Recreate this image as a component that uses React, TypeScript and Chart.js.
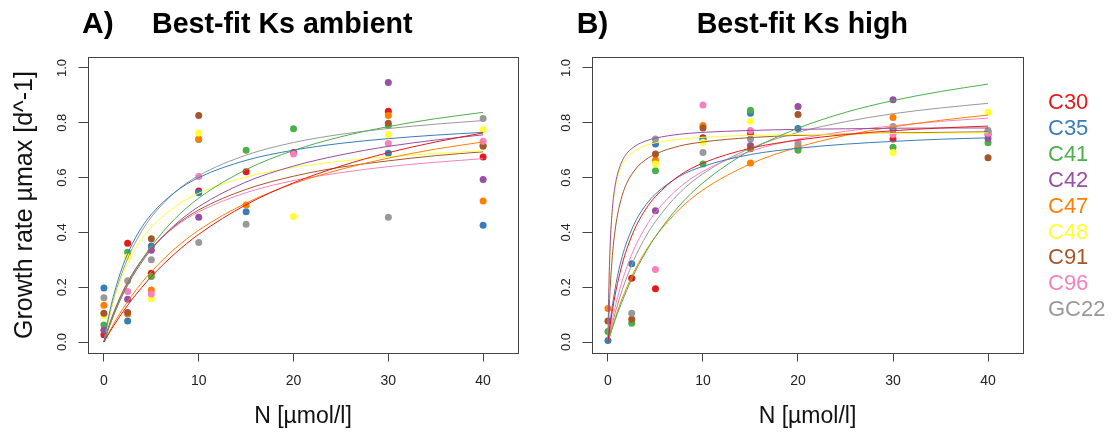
import React, { useEffect, useRef } from "react";
import { Chart, registerables } from "chart.js";

Chart.register(...registerables);

// ---- categories / labels ----
const strains = ["C30", "C35", "C41", "C42", "C47", "C48", "C91", "C96", "GC22"];
const strainColors = ["#E41A1C", "#377EB8", "#4DAF4A", "#984EA3", "#FF7F00", "#FFFF33", "#A65628", "#F781BF", "#999999"];
const nLevels = [0, 2.5, 5, 10, 15, 20, 30, 40];
const xTickValues = [0, 10, 20, 30, 40];
const yTickValues = [0, 0.2, 0.4, 0.6, 0.8, 1.0];
const yTickLabels = ["0.0", "0.2", "0.4", "0.6", "0.8", "1.0"];

// ---- measured growth rates, ambient (values at nLevels; null = not visible) ----
const ambC30 = [0.027, 0.36, 0.251, 0.551, 0.621, 0.692, 0.842, 0.675];
const ambC35 = [0.197, 0.077, 0.35, 0.545, 0.475, null, 0.689, 0.426];
const ambC41 = [0.062, 0.328, 0.239, 0.739, 0.70, 0.778, 0.79, 0.719];
const ambC42 = [0.043, 0.156, 0.335, 0.455, null, null, 0.947, 0.593];
const ambC47 = [0.134, 0.102, 0.19, 0.741, 0.50, null, 0.827, 0.515];
const ambC48 = [0.097, 0.31, 0.158, 0.763, null, 0.458, 0.757, 0.775];
const ambC91 = [0.105, 0.108, 0.377, 0.827, null, null, 0.798, 0.714];
const ambC96 = [null, 0.184, 0.175, 0.604, null, 0.686, 0.724, 0.733];
const ambGC22 = [0.162, 0.224, 0.30, 0.363, 0.43, null, 0.455, 0.816];

// ---- measured growth rates, high ----
const highC30 = [null, 0.233, 0.194, 0.745, 0.763, 0.708, 0.741, 0.757];
const highC35 = [0.006, 0.286, 0.723, 0.74, 0.835, 0.779, 0.776, 0.767];
const highC41 = [0.038, 0.069, 0.625, 0.650, 0.846, 0.70, 0.711, 0.727];
const highC42 = [null, null, 0.479, null, 0.717, 0.859, 0.884, 0.743];
const highC47 = [0.122, null, 0.664, 0.790, 0.653, null, 0.819, null];
const highC48 = [null, null, 0.650, 0.729, 0.806, null, 0.692, 0.838];
const highC91 = [0.077, 0.083, 0.686, 0.781, 0.705, 0.830, null, 0.672];
const highC96 = [null, null, 0.265, 0.865, 0.772, 0.729, 0.757, 0.762];
const highGC22 = [null, 0.105, 0.741, 0.692, 0.741, 0.72, 0.786, 0.772];

// ---- best-fit curves ----
const ambientGrid = [0, 0.5, 1, 2, 3, 4, 5, 7.5, 10, 15, 20, 25, 30, 35, 40];
const fitAmbC30 = [0, 0.030, 0.058, 0.110, 0.157, 0.199, 0.239, 0.323, 0.393, 0.501, 0.581, 0.642, 0.691, 0.730, 0.763];
const fitAmbC35 = [0, 0.093, 0.167, 0.279, 0.359, 0.419, 0.466, 0.547, 0.600, 0.663, 0.700, 0.725, 0.742, 0.755, 0.765];
const fitAmbC41 = [0, 0.050, 0.096, 0.175, 0.243, 0.300, 0.350, 0.450, 0.525, 0.629, 0.699, 0.749, 0.786, 0.815, 0.838];
const fitAmbC42 = [0, 0.051, 0.096, 0.174, 0.238, 0.292, 0.338, 0.428, 0.494, 0.584, 0.642, 0.683, 0.714, 0.737, 0.756];
const fitAmbC47 = [0, 0.033, 0.065, 0.122, 0.172, 0.217, 0.257, 0.341, 0.408, 0.507, 0.578, 0.630, 0.671, 0.704, 0.730];
const fitAmbC48 = [0, 0.082, 0.148, 0.249, 0.321, 0.376, 0.419, 0.494, 0.543, 0.602, 0.637, 0.660, 0.676, 0.688, 0.698];
const fitAmbC91 = [0, 0.055, 0.103, 0.183, 0.247, 0.299, 0.342, 0.424, 0.482, 0.557, 0.605, 0.638, 0.661, 0.680, 0.694];
const fitAmbC96 = [0, 0.057, 0.106, 0.187, 0.250, 0.301, 0.342, 0.421, 0.475, 0.545, 0.589, 0.618, 0.640, 0.656, 0.669];
const fitAmbGC22 = [0, 0.083, 0.152, 0.261, 0.342, 0.405, 0.456, 0.547, 0.607, 0.682, 0.728, 0.758, 0.779, 0.795, 0.808];

const highGrid = [0, 0.1, 0.25, 0.5, 0.75, 1, 1.5, 2, 3, 4, 5, 7.5, 10, 15, 20, 25, 30, 35, 40];
const fitHighC30 = [0, 0.028, 0.066, 0.122, 0.171, 0.213, 0.284, 0.341, 0.426, 0.486, 0.531, 0.607, 0.653, 0.707, 0.737, 0.757, 0.771, 0.781, 0.788];
const fitHighC35 = [0, 0.033, 0.078, 0.141, 0.194, 0.240, 0.312, 0.367, 0.447, 0.501, 0.540, 0.604, 0.641, 0.684, 0.707, 0.722, 0.732, 0.740, 0.745];
const fitHighC41 = [0, 0.011, 0.028, 0.054, 0.080, 0.104, 0.149, 0.191, 0.266, 0.329, 0.385, 0.497, 0.581, 0.700, 0.780, 0.838, 0.881, 0.914, 0.941];
const fitHighC42 = [0, 0.204, 0.367, 0.501, 0.570, 0.612, 0.661, 0.689, 0.718, 0.734, 0.744, 0.758, 0.765, 0.772, 0.776, 0.778, 0.780, 0.781, 0.781];
const fitHighC47 = [0, 0.012, 0.031, 0.059, 0.086, 0.112, 0.159, 0.201, 0.274, 0.334, 0.385, 0.484, 0.555, 0.650, 0.711, 0.754, 0.785, 0.809, 0.828];
const fitHighC48 = [0, 0.202, 0.362, 0.492, 0.559, 0.600, 0.647, 0.674, 0.702, 0.718, 0.727, 0.740, 0.747, 0.754, 0.757, 0.759, 0.761, 0.762, 0.763];
const fitHighC91 = [0, 0.099, 0.208, 0.329, 0.407, 0.463, 0.535, 0.581, 0.635, 0.666, 0.686, 0.715, 0.730, 0.746, 0.754, 0.759, 0.763, 0.765, 0.767];
const fitHighC96 = [0, 0.019, 0.047, 0.089, 0.127, 0.162, 0.223, 0.275, 0.358, 0.422, 0.473, 0.563, 0.623, 0.696, 0.740, 0.769, 0.789, 0.805, 0.817];
const fitHighGC22 = [0, 0.015, 0.038, 0.072, 0.105, 0.135, 0.190, 0.238, 0.320, 0.386, 0.440, 0.543, 0.614, 0.707, 0.765, 0.804, 0.833, 0.854, 0.871];

const ambientPoints = [ambC30, ambC35, ambC41, ambC42, ambC47, ambC48, ambC91, ambC96, ambGC22];
const highPoints = [highC30, highC35, highC41, highC42, highC47, highC48, highC91, highC96, highGC22];
const ambientFits = [fitAmbC30, fitAmbC35, fitAmbC41, fitAmbC42, fitAmbC47, fitAmbC48, fitAmbC91, fitAmbC96, fitAmbGC22];
const highFits = [fitHighC30, fitHighC35, fitHighC41, fitHighC42, fitHighC47, fitHighC48, fitHighC91, fitHighC96, fitHighGC22];

const FONT = '"Liberation Sans", Arial, Helvetica, sans-serif';
const AXIS_COLOR = "#444";
const TEXT_COLOR = "#222";

function buildDatasets(points: (number | null)[][], fits: number[][], grid: number[]) {
  const lines = fits.map((vals, i) => ({
    label: strains[i] + " fit",
    data: grid.map((n, j) => ({ x: n, y: vals[j] })),
    showLine: true,
    borderColor: strainColors[i],
    backgroundColor: strainColors[i],
    borderWidth: 1,
    pointRadius: 0,
    pointHoverRadius: 0,
    cubicInterpolationMode: "monotone" as const,
    order: 0,
  }));
  const dots = points.map((vals, i) => ({
    label: strains[i],
    data: nLevels
      .map((n, j) => (vals[j] == null ? null : { x: n, y: vals[j] as number }))
      .filter((p) => p !== null),
    showLine: false,
    backgroundColor: strainColors[i],
    borderColor: strainColors[i],
    borderWidth: 0,
    pointRadius: 3.5,
    pointHoverRadius: 3.5,
    order: 10 + (strains.length - 1 - i),
  }));
  return [...lines, ...dots];
}

type PanelOpts = {
  panelLabel: string;
  panelLabelX: number;
  title: string;
  titleX: number;
  showYTitle: boolean;
  showLegend: boolean;
  yScaleWidth: number;
  padRight: number;
};

function makeDecor(o: PanelOpts) {
  return {
    id: "decor",
    afterDraw(chart: any) {
      const { ctx, chartArea: a } = chart;
      const ys = chart.scales.y;
      ctx.save();
      // box
      ctx.strokeStyle = AXIS_COLOR;
      ctx.lineWidth = 1;
      ctx.strokeRect(Math.round(a.left) + 0.5, Math.round(a.top) + 0.5, Math.round(a.right - a.left), Math.round(a.bottom - a.top));
      // rotated y tick labels
      ctx.fillStyle = TEXT_COLOR;
      ctx.font = `13px ${FONT}`;
      ctx.textAlign = "center";
      ctx.textBaseline = "middle";
      yTickValues.forEach((v, i) => {
        const py = ys.getPixelForValue(v);
        ctx.save();
        ctx.translate(a.left - 26, py);
        ctx.rotate(-Math.PI / 2);
        ctx.fillText(yTickLabels[i], 0, 0);
        ctx.restore();
      });
      // panel label + title
      ctx.fillStyle = "#000";
      ctx.textAlign = "left";
      ctx.textBaseline = "alphabetic";
      ctx.font = `bold 30px ${FONT}`;
      ctx.fillText(o.panelLabel, o.panelLabelX, 33);
      ctx.font = `bold 28.6px ${FONT}`;
      ctx.fillText(o.title, o.titleX, 33);
      // legend
      if (o.showLegend) {
        ctx.font = `22px ${FONT}`;
        ctx.textBaseline = "middle";
        strains.forEach((s, i) => {
          ctx.fillStyle = strainColors[i];
          ctx.fillText(s, 508, 103 + i * 25.9);
        });
      }
      ctx.restore();
    },
  };
}

function Panel(props: { points: (number | null)[][]; fits: number[][]; grid: number[]; left: number; width: number; opts: PanelOpts }) {
  const ref = useRef<HTMLCanvasElement | null>(null);
  const { points, fits, grid, left, width, opts } = props;
  useEffect(() => {
    if (!ref.current) return;
    const chart = new Chart(ref.current, {
      type: "scatter",
      data: { datasets: buildDatasets(points, fits, grid) as any },
      options: {
        responsive: false,
        animation: false,
        events: [],
        layout: { padding: { top: 57, right: opts.padRight, left: 0, bottom: 0 } },
        plugins: { legend: { display: false }, tooltip: { enabled: false }, title: { display: false } },
        scales: {
          x: {
            type: "linear",
            min: -1.68,
            max: 43.68,
            afterBuildTicks: (s: any) => {
              s.ticks = xTickValues.map((v) => ({ value: v }));
            },
            afterFit: (s: any) => {
              s.height = 79;
            },
            grid: { display: true, drawOnChartArea: false, drawTicks: true, tickLength: 8.5, tickColor: AXIS_COLOR, tickWidth: 1 },
            border: { display: false },
            ticks: { color: TEXT_COLOR, font: { family: FONT, size: 14 }, padding: 11, maxRotation: 0, autoSkip: false, callback: (v: any) => String(v) },
            title: { display: true, text: "N [µmol/l]", color: "#111", font: { family: FONT, size: 23 }, padding: { top: 0, bottom: 2 } },
          },
          y: {
            type: "linear",
            min: -0.04,
            max: 1.04,
            afterBuildTicks: (s: any) => {
              s.ticks = yTickValues.map((v) => ({ value: v }));
            },
            afterFit: (s: any) => {
              s.width = opts.yScaleWidth;
            },
            grid: { display: true, drawOnChartArea: false, drawTicks: true, tickLength: 9.5, tickColor: AXIS_COLOR, tickWidth: 1 },
            border: { display: false },
            ticks: { display: false },
            title: { display: opts.showYTitle, text: "Growth rate µmax [d^-1]", color: "#111", font: { family: FONT, size: 25 }, padding: { top: 10, bottom: 0 } },
          },
        },
      },
      plugins: [makeDecor(opts)],
    } as any);
    return () => chart.destroy();
  }, []);
  return <canvas ref={ref} width={width} height={432} style={{ position: "absolute", left, top: 0, width, height: 432 }} />;
}

export default function App() {
  return (
    <div style={{ position: "absolute", left: 0, top: 0, width: 1115, height: 432, background: "#fff", overflow: "hidden" }}>
      <Panel
        points={ambientPoints}
        fits={ambientFits}
        grid={ambientGrid}
        left={0}
        width={540}
        opts={{ panelLabel: "A)", panelLabelX: 82, title: "Best-fit Ks ambient", titleX: 152, showYTitle: true, showLegend: false, yScaleWidth: 88, padRight: 22 }}
      />
      <Panel
        points={highPoints}
        fits={highFits}
        grid={highGrid}
        left={540}
        width={575}
        opts={{ panelLabel: "B)", panelLabelX: 36.7, title: "Best-fit Ks high", titleX: 156.7, showYTitle: false, showLegend: true, yScaleWidth: 52, padRight: 92 }}
      />
    </div>
  );
}
